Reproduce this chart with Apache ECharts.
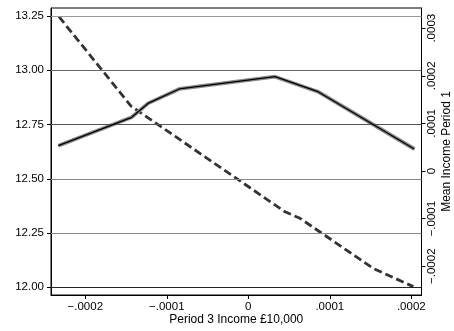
<!DOCTYPE html>
<html><head><meta charset="utf-8">
<script src="https://cdn.jsdelivr.net/npm/echarts@6/dist/echarts.min.js"></script>
<style>html,body{margin:0;padding:0;background:#fff}#c{width:454px;height:331px}</style>
</head><body><div id="c"></div>
<script>
// Dashed series (left axis)
const dashX = [-0.0002323, -0.0001439, 0.0000450, 0.0000634, 0.0001534, 0.0002025];
const dashY = [13.247, 12.835, 12.348, 12.318, 12.087, 12.003];
// Solid series: Mean Income Period 1 (right axis)
const solidX = [-0.0002331, -0.0001431, -0.0001231, -0.0000847, 0.0000328, 0.0000855, 0.0002037];
const solidY = [0.0000532, 0.0001128, 0.0001420, 0.0001723, 0.0001981, 0.0001666, 0.0000462];
// Ticks
const xTicks = [-0.0002, -0.0001, 0, 0.0001, 0.0002];
const xTickLabels = ['\u2212.0002', '\u2212.0001', '0', '.0001', '.0002'];
const leftTicks = [12.00, 12.25, 12.50, 12.75, 13.00, 13.25];
const leftTickLabels = ['12.00', '12.25', '12.50', '12.75', '13.00', '13.25'];
const rightTicks = [-0.0002, -0.0001, 0, 0.0001, 0.0002, 0.0003];
const rightTickLabels = ['\u2212.0002', '\u2212.0001', '0', '.0001', '.0002', '.0003'];
const xTitle = 'Period 3 Income \u00a310,000';
const rightTitle = 'Mean Income Period 1';

const gridColors = ['#222', '#888', '#888', '#555', '#666', '#999'];
const FONT = "'Liberation Sans', Arial, Helvetica, sans-serif";

function lookup(ticks, labels, span) {
  return function (v) {
    const i = ticks.findIndex(t => Math.abs(t - v) < span * 1e-6);
    return i >= 0 ? labels[i] : '';
  };
}
const xMin = -0.0002421, xMax = 0.0002125;
const lMin = 11.9645, lMax = 13.287;
const rMin = -0.0002605, rMax = 0.0003424;

const zip = (a, b) => a.map((v, i) => [v, b[i]]);
const labelStyle = { color: '#000', fontFamily: FONT, fontSize: 11.5 };

const chart = echarts.init(document.getElementById('c'), null, { renderer: 'canvas' });
chart.setOption({
  animation: false,
  backgroundColor: '#fff',
  grid: { left: 51, right: 32.5, top: 8, bottom: 36, containLabel: false, outerBoundsMode: 'none', show: true, borderColor: '#000', borderWidth: 1, backgroundColor: 'transparent' },
  xAxis: {
    type: 'value', min: xMin, max: xMax,
    axisLine: { show: true, onZero: false, lineStyle: { color: '#000', width: 1 } },
    axisTick: { show: true, length: 4, customValues: xTicks, lineStyle: { color: '#000' } },
    axisLabel: Object.assign({ customValues: xTicks, margin: 6, formatter: lookup(xTicks, xTickLabels, xMax - xMin) }, labelStyle),
    splitLine: { show: false },
    name: xTitle, nameLocation: 'middle', nameGap: 19, nameMoveOverlap: false,
    nameTextStyle: { color: '#000', fontFamily: FONT, fontSize: 12 }
  },
  yAxis: [
    {
      type: 'value', position: 'left', min: lMin, max: lMax,
      axisLine: { show: true, onZero: false, lineStyle: { color: '#000', width: 1 } },
      axisTick: { show: true, length: 4, customValues: leftTicks, lineStyle: { color: '#000' } },
      axisLabel: Object.assign({ customValues: leftTicks, margin: 7, formatter: lookup(leftTicks, leftTickLabels, lMax - lMin) }, labelStyle),
      splitLine: { show: false }
    },
    {
      type: 'value', position: 'right', min: rMin, max: rMax,
      axisLine: { show: true, onZero: false, lineStyle: { color: '#000', width: 1 } },
      axisTick: { show: true, length: 4, customValues: rightTicks, lineStyle: { color: '#000' } },
      axisLabel: Object.assign({ customValues: rightTicks, margin: 4, rotate: 90, formatter: lookup(rightTicks, rightTickLabels, rMax - rMin) }, labelStyle),
      splitLine: { show: false },
      name: rightTitle, nameLocation: 'middle', nameRotate: 90, nameGap: 19, nameMoveOverlap: false,
      nameTextStyle: { color: '#000', fontFamily: FONT, fontSize: 12 }
    }
  ],
  series: [
    {
      type: 'line', yAxisIndex: 0, data: zip(dashX, dashY), showSymbol: false, silent: true, z: 1,
      lineStyle: { opacity: 0, width: 0 },
      markLine: {
        silent: true, symbol: 'none', label: { show: false }, animation: false,
        data: leftTicks.map((v, i) => ({ yAxis: v, lineStyle: { color: gridColors[i], width: 1.2, type: 'solid' } }))
      }
    },
    {
      type: 'line', yAxisIndex: 0, data: zip(dashX, dashY), showSymbol: false, silent: true, z: 3,
      lineStyle: { color: '#333', width: 2.8, type: [8, 4], cap: 'butt' }
    },
    {
      type: 'line', yAxisIndex: 1, data: zip(solidX, solidY), showSymbol: false, silent: true, z: 4,
      lineStyle: { color: '#8a8a8a', width: 3.8 }
    },
    {
      type: 'line', yAxisIndex: 1, data: zip(solidX, solidY), showSymbol: false, silent: true, z: 5,
      lineStyle: { color: '#000', width: 1.3 }
    }
  ]
});
</script>
</body></html>
